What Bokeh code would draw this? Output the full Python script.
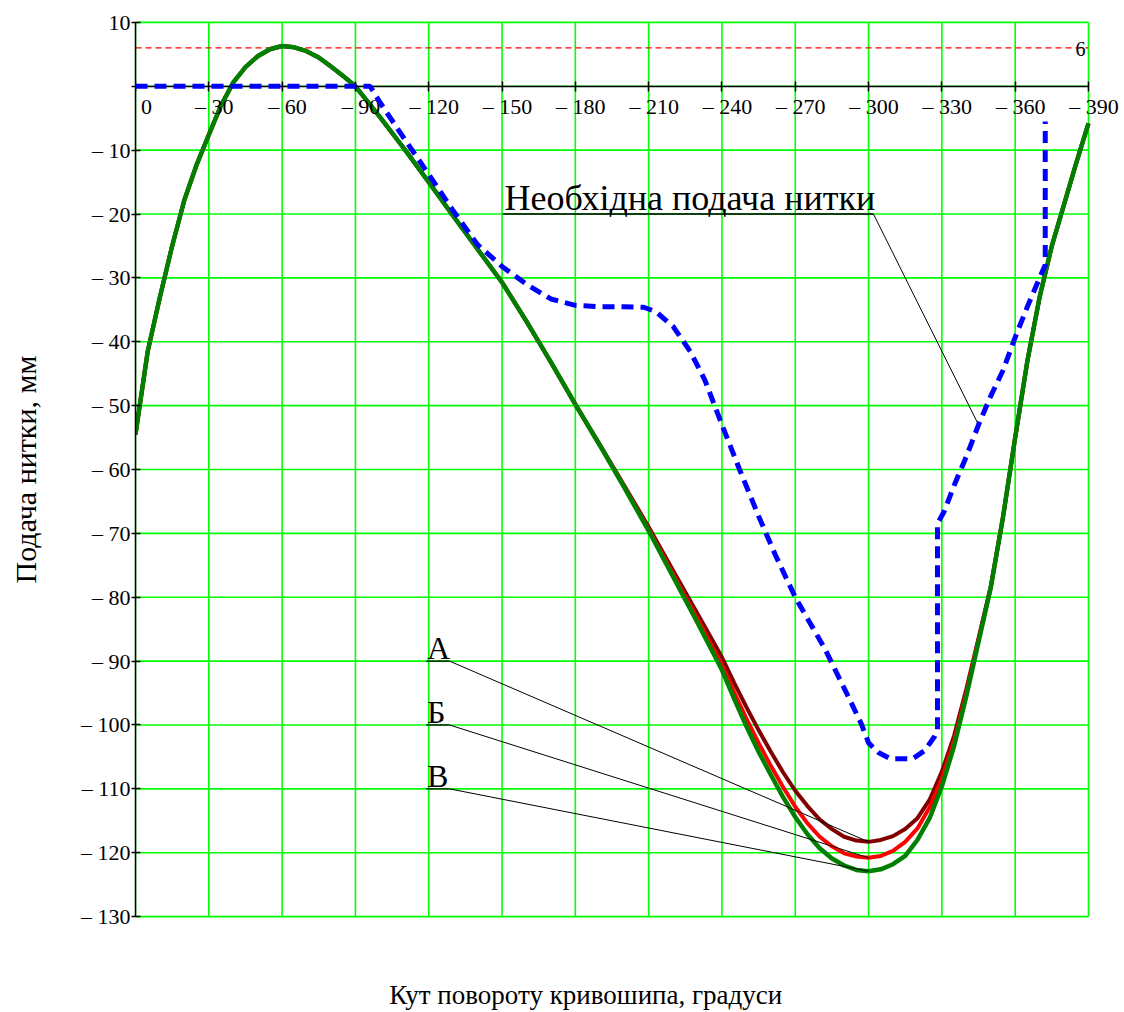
from bokeh.plotting import figure
from bokeh.models import FixedTicker, LinearAxis, Range1d
from bokeh.core.properties import value
from bokeh.embed import file_html
from bokeh.resources import INLINE

FONT = "Liberation Serif"

# ---------------- data ----------------
angle = [0, 5, 10, 15, 20, 25, 30, 35, 40, 45, 50, 55, 60, 65, 70, 75, 80, 85, 90,
         100, 110, 120, 130, 140, 150, 160, 170, 180, 190, 200, 210, 220, 230,
         240, 245, 250, 255, 260, 265, 270, 275, 280, 285, 290, 295, 300, 305, 310,
         315, 320, 325, 330, 335, 340, 345, 350, 355, 360, 365, 370, 375, 380, 385, 390]

feed_V = [-54.5, -41.5, -33.0, -25.0, -17.8, -12.3, -7.6, -3.0, 0.6, 3.0, 4.7, 5.8, 6.3, 6.1, 5.5, 4.5, 3.1, 1.6, 0.0,
          -4.8, -9.8, -15.0, -20.3, -25.5, -30.7, -36.8, -43.2, -49.8, -56.2, -62.8, -69.6, -76.8, -84.0,
          -91.4, -95.9, -100.2, -104.2, -107.8, -111.3, -114.4, -117.1, -119.3, -120.9, -122.0, -122.7, -122.9, -122.6, -121.8,
          -120.5, -118.0, -114.6, -109.6, -103.3, -95.5, -87.0, -78.5, -67.5, -55.0, -43.0, -33.0, -25.0, -18.5, -12.0, -5.8]

feed_B = [-54.5, -41.5, -33.0, -25.0, -17.8, -12.3, -7.6, -3.0, 0.6, 3.0, 4.7, 5.8, 6.3, 6.1, 5.5, 4.5, 3.1, 1.6, 0.0,
          -4.8, -9.8, -15.0, -20.3, -25.5, -30.7, -36.8, -43.2, -49.8, -56.2, -62.7, -69.4, -76.4, -83.4,
          -90.6, -94.9, -99.0, -102.8, -106.4, -109.7, -112.8, -115.4, -117.5, -119.0, -120.1, -120.6, -120.8, -120.5, -119.7,
          -118.3, -116.2, -112.9, -108.4, -102.5, -95.0, -86.7, -78.5, -67.5, -55.0, -43.0, -33.0, -25.0, -18.5, -12.0, -5.8]

feed_A = [-54.5, -41.5, -33.0, -25.0, -17.8, -12.3, -7.6, -3.0, 0.6, 3.0, 4.7, 5.8, 6.3, 6.1, 5.5, 4.5, 3.1, 1.6, 0.0,
          -4.8, -9.8, -15.0, -20.3, -25.5, -30.7, -36.8, -43.2, -49.8, -56.1, -62.5, -69.0, -75.8, -82.6,
          -89.4, -93.4, -97.2, -100.8, -104.2, -107.4, -110.3, -112.7, -114.8, -116.3, -117.5, -118.1, -118.3, -118.0, -117.4,
          -116.3, -114.6, -111.7, -107.3, -101.7, -94.4, -86.4, -78.3, -67.5, -55.0, -43.0, -33.0, -25.0, -18.5, -12.0, -5.8]

need_x = [0, 96, 100, 110, 120, 130, 140, 150, 160, 170, 180, 190, 200, 208, 213, 220, 227, 233,
          240, 247, 255, 262, 270, 282, 291, 297, 300, 304, 309, 318, 323, 327, 328.2, 328.2,
          331, 335, 340, 345, 350, 355, 360, 365, 370, 372.3, 372.3]
need_y = [0, 0, -2.5, -8.2, -13.8, -19.5, -24.8, -28.2, -31.0, -33.3, -34.3, -34.5, -34.5, -34.6, -35.3, -37.6, -41.5, -46.0,
          -53.0, -59.8, -67.3, -73.5, -80.0, -88.0, -95.0, -99.8, -102.8, -104.3, -105.3, -105.3, -104.0, -101.8, -100.8, -68.5,
          -66.5, -62.5, -58.0, -53.0, -48.5, -44.5, -39.3, -34.5, -30.0, -28.0, -5.5]

limit_y = 6

x_ticks = [0, 30, 60, 90, 120, 150, 180, 210, 240, 270, 300, 330, 360, 390]
x_tick_labels = ["0", "– 30", "– 60", "– 90", "– 120", "– 150", "– 180", "– 210",
                 "– 240", "– 270", "– 300", "– 330", "– 360", "– 390"]
y_ticks = [-130, -120, -110, -100, -90, -80, -70, -60, -50, -40, -30, -20, -10, 0, 10]
y_tick_labels = ["– 130", "– 120", "– 110", "– 100", "– 90", "– 80", "– 70", "– 60",
                 "– 50", "– 40", "– 30", "– 20", "– 10", "", "10"]

curve_labels = ["А", "Б", "В"]
note_text = "Необхідна подача нитки"
x_title = "Кут повороту кривошипа, градуси"
y_title = "Подача нитки, мм"

EN = "\u2002"    # en space, used only to nudge centred texts sideways
THIN = "\u2009"

x_lo, x_hi = x_ticks[0], x_ticks[-1]
y_lo, y_hi = y_ticks[0], y_ticks[-1]

# ---------------- figure ----------------
# the frame runs a little past x = 390 so that the last tick label is not cut off;
# the grid itself is drawn only over 0..390 / -130..10
p = figure(width=1124, height=1012,
           min_border_left=135, min_border_top=20, min_border_right=2, min_border_bottom=92,
           x_range=Range1d(x_lo, 403.92), y_range=Range1d(y_lo - 0.3, y_hi + 0.3),
           output_backend="svg", toolbar_location=None)
p.background_fill_color = "white"
p.border_fill_color = "white"
p.outline_line_color = None
p.xgrid.visible = False
p.ygrid.visible = False

GRID = "#00ff00"
vg = p.segment(x0=x_ticks, y0=[y_lo] * len(x_ticks), x1=x_ticks, y1=[y_hi] * len(x_ticks),
               line_color=GRID, line_width=1.6)
hg = p.segment(x0=[x_lo] * len(y_ticks), y0=y_ticks, x1=[x_hi] * len(y_ticks), y1=y_ticks,
               line_color=GRID, line_width=1.6)
vg.level = "underlay"
hg.level = "underlay"

# bottom axis: only the title
bx = p.below[0]
bx.ticker = FixedTicker(ticks=[])
bx.axis_line_color = None
bx.major_tick_line_color = None
bx.minor_tick_line_color = None
bx.major_label_text_font_size = "0px"
bx.axis_label = x_title + EN * 6 + THIN
bx.axis_label_text_font = FONT
bx.axis_label_text_font_style = "normal"
bx.axis_label_text_font_size = "27px"
bx.axis_label_text_color = "black"
bx.axis_label_standoff = 61

# left axis
ly = p.left[0]
ly.bounds = (y_lo, y_hi)
ly.ticker = FixedTicker(ticks=y_ticks)
ly.major_label_overrides = {t: s for t, s in zip(y_ticks, y_tick_labels)}
ly.major_label_text_font = FONT
ly.major_label_text_font_size = "22px"
ly.major_label_text_color = "black"
ly.major_label_standoff = 1
ly.major_tick_in = 5
ly.major_tick_out = 4
ly.major_tick_line_width = 1.5
ly.minor_tick_line_color = None
ly.axis_line_width = 1.5
ly.axis_label = y_title
ly.axis_label_text_font = FONT
ly.axis_label_text_font_style = "normal"
ly.axis_label_text_font_size = "30px"
ly.axis_label_text_color = "black"
ly.axis_label_standoff = 36

# x axis through y = 0, labels start at the tick as in the original
zx = LinearAxis(fixed_location=0, bounds=(x_lo, x_hi), ticker=FixedTicker(ticks=x_ticks))
zx.major_label_overrides = {t: (EN * 2 if t == 0 else EN) + s for t, s in zip(x_ticks, x_tick_labels)}
zx.major_label_text_font = FONT
zx.major_label_text_font_size = "22px"
zx.major_label_text_color = "black"
zx.major_label_standoff = 3
zx.major_tick_in = 5
zx.major_tick_out = 5
zx.major_tick_line_width = 1.5
zx.minor_tick_line_color = None
zx.axis_line_width = 1.5
p.add_layout(zx, "below")

# limit line
p.segment(x0=[x_lo], y0=[limit_y], x1=[x_hi], y1=[limit_y], line_color="red",
          line_dash="6 4", line_width=1.2)
p.text(x=[x_hi], y=[limit_y], text=[str(limit_y)], x_offset=-3, y_offset=1,
       text_align="right", text_baseline="middle",
       text_font=value(FONT), text_font_size="20px", text_color="black")

# curves
p.line(angle, feed_A, line_color="#800000", line_width=4)
p.line(angle, feed_B, line_color="#ff0000", line_width=4)
p.line(angle, feed_V, line_color="#008000", line_width=4.5)
need = p.line(need_x, need_y, line_color="#0000ff", line_width=5, line_dash="12 7")
need.level = "annotation"

# annotation: required feed
i345 = need_x.index(345)
p.segment(x0=[150.2], y0=[-20], x1=[302], y1=[-20], line_color="black", line_width=1.3)
p.segment(x0=[302], y0=[-20], x1=[345], y1=[need_y[i345]], line_color="black", line_width=1)
p.text(x=[151], y=[-20], text=[note_text], y_offset=-16, text_align="left",
       text_baseline="middle", text_font=value(FONT), text_font_size="36px",
       text_color="black")

# annotation: curve labels
i300 = angle.index(300)
label_y = [-90, -100, -110]
ends = [feed_A[i300], feed_B[i300], feed_V[i300]]
p.segment(x0=[119] * 3, y0=label_y, x1=[128.5] * 3, y1=label_y, line_color="black", line_width=1.3)
p.segment(x0=[128.5] * 3, y0=label_y, x1=[300] * 3, y1=ends, line_color="black", line_width=1)
p.text(x=[119.3] * 3, y=label_y, text=curve_labels, y_offset=-13, text_align="left",
       text_baseline="middle", text_font=value(FONT), text_font_size="32px",
       text_color="black")

open("out.html", "w").write(file_html(p, INLINE))
